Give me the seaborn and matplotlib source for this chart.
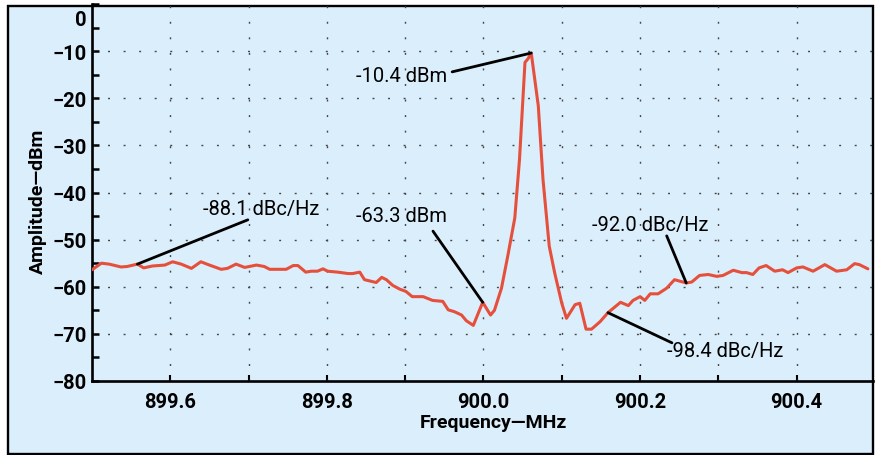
import numpy as np
import pandas as pd
import matplotlib
matplotlib.use("Agg")
import matplotlib.pyplot as plt
import matplotlib.patches as mpatches
from matplotlib.transforms import ScaledTranslation
import seaborn as sns

# ---- data ----
freq_mhz = [899.500, 899.512, 899.522, 899.537, 899.545, 899.558, 899.566, 899.577,
            899.593, 899.603, 899.614, 899.627, 899.639, 899.650, 899.665, 899.673,
            899.684, 899.695, 899.710, 899.720, 899.727, 899.740, 899.748, 899.757,
            899.763, 899.773, 899.780, 899.788, 899.795, 899.801, 899.814, 899.827,
            899.833, 899.842, 899.848, 899.863, 899.870, 899.876, 899.884, 899.893,
            899.901, 899.909, 899.923, 899.935, 899.948, 899.955, 899.963, 899.972,
            899.978, 899.987, 899.999, 900.009, 900.014, 900.023, 900.031, 900.040,
            900.046, 900.053, 900.057, 900.061, 900.070, 900.076, 900.084, 900.091,
            900.100, 900.106, 900.117, 900.123, 900.131, 900.138, 900.149, 900.159,
            900.175, 900.185, 900.191, 900.200, 900.206, 900.213, 900.223, 900.234,
            900.244, 900.259, 900.266, 900.276, 900.287, 900.298, 900.306, 900.319,
            900.330, 900.336, 900.344, 900.352, 900.361, 900.372, 900.382, 900.389,
            900.400, 900.408, 900.421, 900.436, 900.451, 900.464, 900.474, 900.480,
            900.491]
amplitude_dbm = [-56.4, -55.0, -55.2, -55.8, -55.7, -55.2, -56.0, -55.6,
                 -55.4, -54.7, -55.2, -56.1, -54.7, -55.4, -56.3, -56.1,
                 -55.2, -55.9, -55.4, -55.7, -56.3, -56.3, -56.3, -55.5,
                 -55.5, -56.9, -56.7, -56.7, -56.2, -56.7, -56.9, -57.2,
                 -57.2, -56.9, -58.5, -59.1, -58.0, -58.5, -59.7, -60.5,
                 -61.0, -62.1, -62.1, -62.9, -63.1, -64.9, -65.3, -66.0,
                 -67.2, -68.2, -63.3, -66.0, -65.0, -60.3, -53.5, -45.4,
                 -33.0, -12.4, -11.6, -10.4, -21.6, -37.2, -51.4, -57.1,
                 -63.5, -66.7, -63.8, -63.5, -69.0, -69.0, -67.4, -65.5,
                 -63.3, -64.0, -62.9, -62.1, -62.9, -61.5, -61.5, -60.3,
                 -58.5, -59.2, -59.0, -57.6, -57.4, -57.8, -57.6, -56.5,
                 -57.0, -57.0, -57.4, -56.0, -55.5, -56.7, -56.4, -57.0,
                 -56.0, -55.8, -56.7, -55.3, -56.7, -56.4, -55.1, -55.3,
                 -56.2]

x_major_ticks = [899.6, 899.8, 900.0, 900.2, 900.4]
x_minor_ticks = [899.7, 899.9, 900.1, 900.3]
y_major_ticks = [0, -10, -20, -30, -40, -50, -60, -70, -80]
y_minor_ticks = [-5, -15, -25, -35, -45, -55, -65, -75]
y_grid = [-10, -20, -30, -40, -50, -60, -70]
x_grid = [899.6, 899.7, 899.8, 899.9, 900.0, 900.1, 900.2, 900.3, 900.4]

# annotations: label, point on curve, leader start, text anchor, ha
ann_labels = ["-10.4 dBm", "-63.3 dBm", "-88.1 dBc/Hz", "-92.0 dBc/Hz", "-98.4 dBc/Hz"]
ann_points = [(900.061, -10.4), (899.999, -63.3), (899.558, -55.2), (900.259, -59.2), (900.159, -65.5)]
ann_starts = [(899.960, -14.4), (899.9355, -48.2), (899.699, -45.8), (900.234, -49.2), (900.2407, -71.9)]
ann_text_pos = [(899.953, -15.2), (899.953, -44.9), (899.642, -43.4), (900.139, -46.8), (900.234, -73.6)]
ann_ha = ["right", "right", "left", "left", "left"]

df = pd.DataFrame({"Frequency": freq_mhz, "Amplitude": amplitude_dbm})

# ---- style ----
BG = "#dbeefb"
LINE = "#e5503c"
sns.set_theme(style="white")
plt.rcParams["font.family"] = ["Roboto", "DejaVu Sans"]
plt.rcParams["text.color"] = "black"

W, H = 878, 456
fig = plt.figure(figsize=(W / 100, H / 100), dpi=100)
fig.patch.set_facecolor("white")

# outer framed box
rect = mpatches.Rectangle((8 / W, 1 - 455 / H), (873 - 8) / W, (455 - 7) / H,
                          transform=fig.transFigure, facecolor=BG,
                          edgecolor="black", linewidth=1.7, zorder=0)
fig.add_artist(rect)

ax_l, ax_r, ax_t, ax_b = 92, 873, 5, 382
ax = fig.add_axes([ax_l / W, 1 - ax_b / H, (ax_r - ax_l) / W, (ax_b - ax_t) / H])
ax.set_facecolor("none")
ax.set_zorder(1)

sns.lineplot(data=df, x="Frequency", y="Amplitude", ax=ax, color=LINE,
             linewidth=2.2, zorder=3)

ax.set_xlim(899.5, 900.4975)
ax.set_ylim(-80, 0)

# grid
for g in y_grid:
    ax.axhline(g, color="#444444", linewidth=1.0, linestyle=(0, (1.4, 9.8)), zorder=1)
for g in x_grid:
    ax.axvline(g, color="#444444", linewidth=1.0, linestyle=(0, (1.4, 9.8)), zorder=1)

# spines
for s in ["top", "right"]:
    ax.spines[s].set_visible(False)
for s in ["left", "bottom"]:
    ax.spines[s].set_visible(True)
    ax.spines[s].set_color("black")
    ax.spines[s].set_linewidth(1.9)

ax.set_xticks(x_major_ticks)
ax.set_xticks(x_minor_ticks, minor=True)
ax.set_yticks(y_major_ticks)
ax.set_yticks(y_minor_ticks, minor=True)
ax.set_xticklabels([f"{v:.1f}" for v in x_major_ticks])
ax.set_yticklabels([("\u2212" + str(abs(v))) if v < 0 else str(v) for v in y_major_ticks])

ax.tick_params(axis="both", which="both", direction="in", color="black",
               left=True, bottom=True)
ax.tick_params(axis="y", which="major", length=5, width=1.8, pad=4)
ax.tick_params(axis="y", which="minor", length=5, width=1.8)
ax.tick_params(axis="x", which="major", length=4, width=1.5, pad=8)
ax.tick_params(axis="x", which="minor", length=4, width=1.5)

for lab in ax.get_xticklabels() + ax.get_yticklabels():
    lab.set_fontweight("bold")
    lab.set_fontsize(14.5)
    lab.set_color("black")

# shift the "0" label down like the reference
ylabs = ax.get_yticklabels()
ylabs[0].set_transform(ylabs[0].get_transform() +
                       ScaledTranslation(0, -13 / 100, fig.dpi_scale_trans))

ax.set_xlabel("")
ax.set_ylabel("")
fig.text(38 / W, 1 - 201 / H, "Amplitude\u2014dBm", rotation=90, ha="center",
         va="center", fontsize=14, fontweight="bold", color="black")
fig.text(493 / W, 1 - 423 / H, "Frequency\u2014MHz", ha="center", va="center",
         fontsize=14, fontweight="bold", color="black")

# annotations
for lab, pt, st, tp, ha in zip(ann_labels, ann_points, ann_starts, ann_text_pos, ann_ha):
    ax.annotate("", xy=pt, xytext=st,
                arrowprops=dict(arrowstyle="-", color="black", lw=2.0,
                                shrinkA=0, shrinkB=0), zorder=4)
    ax.text(tp[0], tp[1], lab, ha=ha, va="center", fontsize=14.5, color="black",
            zorder=5)

fig.savefig("out.png", dpi=100, facecolor="white")
